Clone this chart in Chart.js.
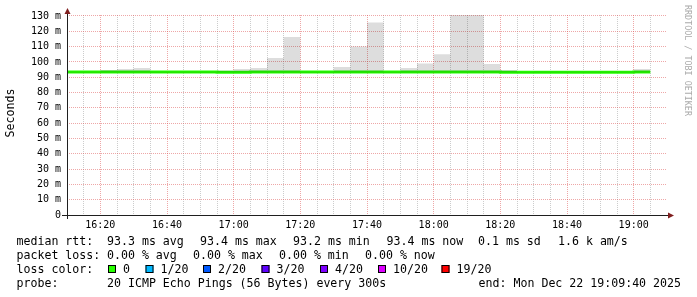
<!DOCTYPE html>
<html>
<head>
<meta charset="utf-8">
<script src="https://cdn.jsdelivr.net/npm/chart.js@4"></script>
<style>
  html, body { margin: 0; padding: 0; background: #fff; }
  canvas { display: block; }
</style>
</head>
<body>
<canvas id="smokeChart" width="697" height="297"></canvas>
<script>
// 5 minute steps, each value covers [time, next time)
const stepTimes = ['16:10', '16:15', '16:20', '16:25', '16:30', '16:35', '16:40', '16:45', '16:50', '16:55',
                   '17:00', '17:05', '17:10', '17:15', '17:20', '17:25', '17:30', '17:35', '17:40', '17:45',
                   '17:50', '17:55', '18:00', '18:05', '18:10', '18:15', '18:20', '18:25', '18:30', '18:35',
                   '18:40', '18:45', '18:50', '18:55', '19:00', '19:05'];
const rangeEnd = '19:10';

// median rtt (ms)
const medianRtt = [93.4, 93.4, 93.4, 93.4, 93.4, 93.4, 93.4, 93.4, 93.4, 93.3,
                   93.3, 93.4, 93.4, 93.4, 93.4, 93.4, 93.4, 93.4, 93.4, 93.4,
                   93.4, 93.4, 93.4, 93.4, 93.4, 93.4, 93.2, 93.2, 93.3, 93.3,
                   93.3, 93.3, 93.3, 93.3, 93.4];
// smoke: lowest and highest ping (ms)
const smokeMin = [93.0, 93.0, 93.0, 93.0, 93.0, 93.0, 93.0, 93.0, 93.0, 93.0,
                  93.0, 93.0, 93.0, 93.0, 93.0, 93.0, 93.0, 93.0, 93.0, 93.0,
                  93.0, 93.0, 93.0, 93.0, 93.0, 93.0, 92.9, 92.9, 93.0, 93.0,
                  93.0, 93.0, 93.0, 93.0, 93.0];
const smokeMax = [93.8, 93.8, 94.8, 95.4, 96.0, 93.8, 93.8, 93.8, 93.8, 94.4,
                  95.4, 96.0, 102.6, 116.3, 93.8, 93.8, 96.7, 110.0, 125.7, 93.8,
                  96.0, 98.9, 105.0, 131.0, 131.0, 98.6, 94.8, 93.6, 93.8, 93.8,
                  93.8, 93.8, 93.8, 93.8, 95.4];

const timeTicks = ['16:20', '16:40', '17:00', '17:20', '17:40', '18:00', '18:20', '18:40', '19:00'];
const yTicks = [0, 10, 20, 30, 40, 50, 60, 70, 80, 90, 100, 110, 120, 130];
const yTickLabels = ['0', '10 m', '20 m', '30 m', '40 m', '50 m', '60 m', '70 m', '80 m', '90 m',
                     '100 m', '110 m', '120 m', '130 m'];
const yMax = 130.65;

const lossLabels = ['0', '1/20', '2/20', '3/20', '4/20', '10/20', '19/20'];
const lossColors = ['#26ff00', '#00b8ff', '#0059ff', '#5e00ff', '#7e00ff', '#dd00ff', '#ff0000'];

const toMin = t => { const [h, m] = t.split(':').map(Number); return h * 60 + m; };
const t0 = toMin(stepTimes[0]);
const xs = stepTimes.map(t => toMin(t) - t0);
const xEnd = toMin(rangeEnd) - t0;
const majorX = timeTicks.map(t => toMin(t) - t0);
const steps = arr => xs.map((x, i) => ({ x: x, y: arr[Math.min(i, arr.length - 1)] }));

const MONO = '"DejaVu Sans Mono", monospace';
const GRID = 'rgba(143,143,143,0.45)';
const MGRID = 'rgba(222,79,79,0.5)';

// axes with arrows, legend block, watermark
const decor = {
  id: 'decor',
  afterDraw(chart) {
    const { ctx, chartArea: a } = chart;
    ctx.save();
    ctx.strokeStyle = '#1f1f1f';
    ctx.lineWidth = 1;
    ctx.beginPath();
    ctx.moveTo(a.left - 5, a.bottom + 0.5);
    ctx.lineTo(a.right + 1, a.bottom + 0.5);
    ctx.moveTo(a.left + 0.5, a.bottom + 4);
    ctx.lineTo(a.left + 0.5, a.top - 2);
    ctx.stroke();

    ctx.fillStyle = '#801f1f';
    ctx.beginPath();
    ctx.moveTo(a.left - 2.5, a.top - 1);
    ctx.lineTo(a.left + 3.5, a.top - 1);
    ctx.lineTo(a.left + 0.5, a.top - 7);
    ctx.closePath();
    ctx.fill();
    ctx.beginPath();
    ctx.moveTo(a.right + 1, a.bottom - 2.5);
    ctx.lineTo(a.right + 1, a.bottom + 3.5);
    ctx.lineTo(a.right + 7, a.bottom + 0.5);
    ctx.closePath();
    ctx.fill();

    // y title
    ctx.fillStyle = '#000';
    ctx.font = '11.6px ' + MONO;
    ctx.save();
    ctx.translate(11, 113);
    ctx.rotate(-Math.PI / 2);
    ctx.textAlign = 'center';
    ctx.textBaseline = 'middle';
    ctx.fillText('Seconds', 0, 0);
    ctx.restore();

    // watermark
    ctx.save();
    ctx.fillStyle = '#aaaaaa';
    ctx.font = '8.4px ' + MONO;
    ctx.translate(687.5, 5);
    ctx.rotate(Math.PI / 2);
    ctx.textAlign = 'left';
    ctx.textBaseline = 'middle';
    ctx.fillText('RRDTOOL / TOBI OETIKER', 0, 0);
    ctx.restore();

    // legend lines
    ctx.textAlign = 'left';
    ctx.textBaseline = 'alphabetic';
    const put = (txt, x, y) => ctx.fillText(txt, x, y);
    put('median rtt:', 16.5, 245);
    put('93.3 ms avg', 107, 245);
    put('93.4 ms max', 200, 245);
    put('93.2 ms min', 293, 245);
    put('93.4 ms now', 386.5, 245);
    put('0.1 ms sd', 478, 245);
    put('1.6 k am/s', 558, 245);

    put('packet loss:', 16.5, 259);
    put('0.00 % avg', 107, 259);
    put('0.00 % max', 193, 259);
    put('0.00 % min', 279, 259);
    put('0.00 % now', 365, 259);

    put('loss color:', 16.5, 273);
    const swX = [108, 145.5, 203, 261.5, 320, 378, 441.5];
    lossLabels.forEach((lbl, i) => {
      ctx.fillStyle = lossColors[i];
      ctx.fillRect(swX[i], 265, 8, 8);
      ctx.strokeStyle = '#000';
      ctx.strokeRect(swX[i] + 0.5, 265.5, 7, 7);
      ctx.fillStyle = '#000';
      put(lbl, swX[i] + 15, 273);
    });

    put('probe:', 16.5, 287);
    put('20 ICMP Echo Pings (56 Bytes) every 300s', 107, 287);
    ctx.textAlign = 'right';
    put('end: Mon Dec 22 19:09:40 2025', 681, 287);
    ctx.restore();
  }
};

new Chart(document.getElementById('smokeChart'), {
  type: 'line',
  data: {
    datasets: [{
      label: 'smoke min',
      data: steps(smokeMin),
      stepped: 'before',
      borderWidth: 0,
      pointRadius: 0,
      fill: false
    }, {
      label: 'smoke max',
      data: steps(smokeMax),
      stepped: 'before',
      borderWidth: 0,
      pointRadius: 0,
      backgroundColor: 'rgba(0,0,0,0.135)',
      fill: '-1'
    }, {
      label: 'median rtt',
      data: steps(medianRtt),
      stepped: 'before',
      borderColor: lossColors[0],
      borderWidth: 3,
      borderCapStyle: 'butt',
      pointRadius: 0,
      fill: false
    }]
  },
  options: {
    responsive: false,
    animation: false,
    devicePixelRatio: 1,
    layout: { padding: { left: 0, right: 30, top: 15, bottom: 0 } },
    plugins: { legend: { display: false }, tooltip: { enabled: false }, title: { display: false } },
    scales: {
      x: {
        type: 'linear',
        min: 0,
        max: xEnd,
        afterFit: s => { s.height = 82; },
        ticks: {
          stepSize: 5,
          autoSkip: false,
          maxRotation: 0,
          padding: 4,
          color: '#000',
          font: { family: MONO, size: 10 },
          callback: v => { const i = majorX.indexOf(v); return i >= 0 ? timeTicks[i] : ''; }
        },
        grid: {
          drawTicks: false,
          lineWidth: 1,
          color: c => (c.tick.value === 0 || c.tick.value === xEnd) ? 'rgba(0,0,0,0)' :
                      (majorX.includes(c.tick.value) ? MGRID : GRID)
        },
        border: { display: false, dash: [1, 1] }
      },
      y: {
        min: 0,
        max: yMax,
        afterFit: s => { s.width = 67; },
        ticks: {
          stepSize: 5,
          includeBounds: false,
          padding: 6,
          color: '#000',
          font: { family: MONO, size: 10 },
          callback: v => { const i = yTicks.indexOf(v); return i >= 0 ? yTickLabels[i] : ''; }
        },
        grid: {
          drawTicks: false,
          lineWidth: 1,
          color: c => c.tick.value === 0 ? 'rgba(0,0,0,0)' : (c.tick.value % 10 === 0 ? MGRID : GRID)
        },
        border: { display: false, dash: [1, 1] }
      }
    }
  },
  plugins: [decor]
});
</script>
</body>
</html>
